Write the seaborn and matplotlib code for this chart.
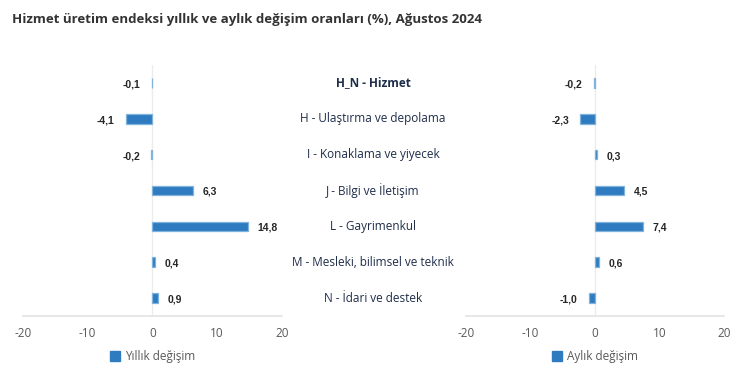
import matplotlib
matplotlib.use("Agg")
import matplotlib.pyplot as plt
import matplotlib.transforms as mtransforms
from matplotlib.patches import Patch
import seaborn as sns

categories = [
    "H_N - Hizmet",
    "H - Ulaştırma ve depolama",
    "I - Konaklama ve yiyecek",
    "J - Bilgi ve İletişim",
    "L - Gayrimenkul",
    "M - Mesleki, bilimsel ve teknik",
    "N - İdari ve destek",
]
yillik = [-0.1, -4.1, -0.2, 6.3, 14.8, 0.4, 0.9]
aylik = [-0.2, -2.3, 0.3, 4.5, 7.4, 0.6, -1.0]
xticks = [-20, -10, 0, 10, 20]

bar_color = "#2e7bbf"
edge_color = "#7fb2dd"
sns.set_style("white")
plt.rcParams["font.family"] = ["Open Sans", "DejaVu Sans"]

fig = plt.figure(figsize=(7.5, 3.9), dpi=100)
ax1 = fig.add_axes([0.0307, 0.1897, 0.345, 0.6436])
ax2 = fig.add_axes([0.6213, 0.1897, 0.344, 0.6436])


def draw_panel(ax, values, legend_label):
    sns.barplot(x=values, y=categories, order=categories, ax=ax,
                color=bar_color, width=0.27, orient="h", saturation=1,
                edgecolor=edge_color, linewidth=0.9)
    ax.set_xlim(-20, 20)
    ax.set_ylim(len(categories) - 0.5, -0.5)
    ax.set_xticks(xticks)
    ax.set_xticklabels([str(t) for t in xticks], color="#595959", fontsize=8.5)
    ax.set_yticks([])
    ax.set_xlabel("")
    ax.set_ylabel("")
    for s in ["top", "right", "left"]:
        ax.spines[s].set_visible(False)
    ax.spines["bottom"].set_color("#e3e3e3")
    ax.spines["bottom"].set_linewidth(1.2)
    ax.tick_params(axis="x", length=0, pad=8)
    ax.axvline(0, color="#ececec", lw=1, zorder=0)
    for i, v in enumerate(values):
        txt = f"{v:.1f}".replace(".", ",")
        off = -8 if v < 0 else 7
        ax.annotate(txt, (v, i), xytext=(off, -1), textcoords="offset points",
                    ha="right" if v < 0 else "left", va="center",
                    fontsize=7.5, fontweight="bold", color="#262626",
                    family=["Liberation Sans", "DejaVu Sans"])
    ax.legend(handles=[Patch(facecolor=bar_color, edgecolor=bar_color)],
              labels=[legend_label], loc="center", bbox_to_anchor=(0.5, -0.16),
              frameon=False, fontsize=8.5, handlelength=0.9, handleheight=0.9,
              handletextpad=0.4, labelcolor="#595959")


draw_panel(ax1, yillik, "Yıllık değişim")
draw_panel(ax2, aylik, "Aylık değişim")

# category names between the two panels
trans = mtransforms.blended_transform_factory(fig.transFigure, ax1.transData)
for i, c in enumerate(categories):
    fig.text(373 / 750, i, c, transform=trans, ha="center", va="center",
             fontsize=8.5, color="#1f2d4a",
             fontweight="bold" if i == 0 else "normal")

fig.text(12 / 750, 1 - 20 / 390,
         "Hizmet üretim endeksi yıllık ve aylık değişim oranları (%), Ağustos 2024",
         ha="left", va="center", fontsize=9.5, fontweight="bold", color="#333333")

fig.savefig("out.png", dpi=100)
